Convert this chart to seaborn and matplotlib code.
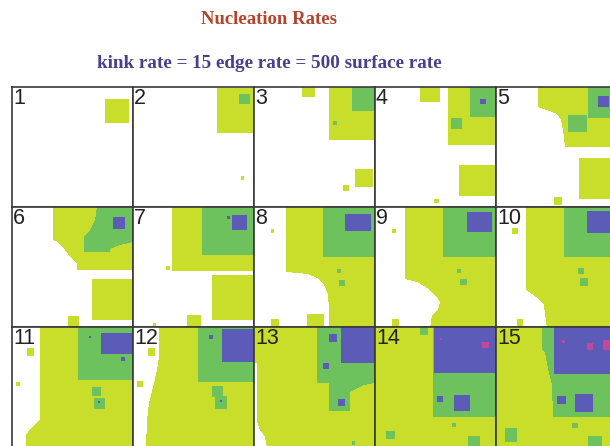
import numpy as np
import matplotlib
matplotlib.use("Agg")
import matplotlib.pyplot as plt
from matplotlib.colors import ListedColormap
from matplotlib.path import Path
import seaborn as sns

# colores por capa: sustrato, 1a, 2a, 3a y 4a capa
layer_colors = ["#ffffff", "#c8de2a", "#6dc25e", "#5c5cb8", "#c04a9a"]
panel_labels = [str(i) for i in range(1, 16)]

# islas de cada instantanea: (capa, x0, y0, x1, y1) en sitios de red
# o (capa, [contorno]) para los frentes irregulares
snap_01 = [(1, 93, 12, 117, 36)]
snap_02 = [(1, 84, 1, 121, 46), (2, 106, 7, 117, 17), (1, 108, 89, 111, 93)]
snap_03 = [(1, 48, 0, 61, 10), (1, 75, 0, 121, 53), (2, 98, 0, 121, 24),
           (2, 79, 34, 83, 38), (1, 101, 82, 119, 100), (1, 89, 98, 95, 104)]
snap_04 = [(1, 45, 0, 65, 15), (1, 73, 0, 121, 58), (2, 95, 0, 121, 30),
           (3, 105, 12, 111, 17), (2, 76, 31, 87, 42), (1, 84, 78, 121, 109),
           (1, 59, 112, 64, 116)]
snap_05 = [(1, [(42, 0), (121, 0), (121, 60), (69, 60), (67, 43), (65, 33),
                (61, 27), (54, 24), (42, 20)]),
           (2, 92, 0, 121, 31), (3, 102, 9, 113, 20), (2, 72, 28, 91, 45),
           (1, 83, 71, 121, 112), (1, 58, 110, 66, 118)]
snap_06 = [(1, [(41, 0), (121, 0), (121, 63), (65, 63), (65, 57), (61, 52),
                (56, 47), (51, 40), (46, 35), (41, 33)]),
           (2, [(85, 0), (121, 0), (121, 35), (108, 38), (98, 42), (98, 45),
                (72, 45), (72, 30), (78, 23), (83, 13)]),
           (3, 101, 10, 113, 22), (2, 93, 9, 95, 11),
           (1, 80, 72, 121, 113), (1, 56, 109, 67, 121)]
snap_07 = [(1, 39, 0, 121, 64), (2, 69, 0, 121, 48), (3, 99, 8, 114, 23),
           (3, 94, 9, 97, 12), (1, 33, 59, 37, 63), (1, 79, 68, 121, 113),
           (1, 54, 108, 68, 121), (1, 20, 116, 23, 119)]
snap_08 = [(1, 32, 0, 121, 121),
           (0, [(0, 65), (32, 65), (54, 67), (63, 71), (70, 78), (74, 87),
                (75, 103), (75, 121), (0, 121)]),
           (2, 69, 0, 121, 50), (3, 91, 7, 117, 24), (2, 83, 62, 87, 66),
           (2, 85, 73, 91, 79), (1, 17, 22, 20, 26), (1, 53, 107, 70, 121),
           (1, 17, 112, 25, 121)]
snap_09 = [(1, 30, 0, 121, 121),
           (0, [(0, 72), (30, 72), (42, 75), (52, 81), (60, 88), (65, 95),
                (63, 103), (57, 108), (55, 121), (0, 121)]),
           (2, 68, 0, 121, 50), (3, 92, 5, 117, 25), (2, 82, 62, 86, 66),
           (2, 85, 72, 92, 78), (1, 17, 22, 21, 26), (1, 17, 112, 24, 121)]
snap_10 = [(1, [(30, 0), (121, 0), (121, 121), (51, 121), (49, 107), (48, 98),
                (43, 92), (36, 87), (30, 83)]),
           (2, 68, 0, 121, 50), (3, 91, 4, 121, 26), (2, 82, 61, 88, 67),
           (2, 84, 71, 92, 79), (1, 16, 21, 22, 27), (1, 21, 112, 27, 121)]
snap_11 = [(1, [(28, 0), (121, 0), (121, 121), (14, 121), (14, 108), (16, 105),
                (21, 100), (28, 93)]),
           (2, 66, 0, 121, 53), (3, 89, 6, 121, 27), (3, 109, 30, 113, 34),
           (3, 77, 9, 79, 11), (2, 80, 60, 89, 69), (2, 82, 71, 93, 82),
           (3, 86, 74, 88, 76), (1, 15, 21, 22, 29), (1, 4, 55, 8, 59)]
snap_12 = [(1, [(26, 0), (121, 0), (121, 121), (13, 121), (14, 93), (16, 76),
                (20, 60), (24, 43), (26, 30)]),
           (2, 65, 0, 121, 55), (3, 89, 2, 121, 35), (3, 76, 8, 80, 12),
           (2, 79, 59, 90, 70), (2, 82, 69, 94, 82), (3, 87, 73, 89, 75),
           (1, 15, 21, 22, 29), (1, 4, 54, 10, 60)]
snap_13 = [(1, 0, 0, 121, 121),
           (0, [(0, 36), (3, 36), (3, 95), (6, 103), (11, 110), (13, 121), (0, 121)]),
           (2, [(63, 0), (121, 0), (121, 56), (110, 58), (104, 61), (96, 65),
                (96, 84), (75, 84), (75, 56), (63, 56)]),
           (3, 87, 0, 121, 36), (3, 75, 7, 83, 15), (3, 69, 36, 75, 42),
           (3, 84, 72, 91, 79), (2, 98, 114, 101, 118)]
snap_14 = [(1, 0, 0, 121, 121), (2, 58, 0, 121, 90), (3, 59, 0, 121, 46),
           (4, 107, 15, 114, 21), (4, 65, 11, 67, 13), (3, 62, 69, 68, 75),
           (3, 79, 68, 95, 84), (2, 11, 104, 20, 112), (2, 77, 96, 81, 100),
           (2, 93, 109, 105, 121), (2, 45, 0, 53, 8)]
snap_15 = [(1, 0, 0, 121, 121),
           (2, [(46, 0), (121, 0), (121, 90), (57, 90), (56, 58), (52, 42),
                (49, 25), (46, 22)]),
           (3, 58, 0, 121, 47), (4, 91, 16, 97, 23), (4, 107, 13, 114, 23),
           (4, 66, 13, 69, 16), (3, 61, 69, 70, 77), (3, 79, 67, 97, 85),
           (2, 9, 101, 21, 115), (2, 76, 96, 82, 101), (2, 92, 109, 106, 121)]

snapshots = [snap_01, snap_02, snap_03, snap_04, snap_05,
             snap_06, snap_07, snap_08, snap_09, snap_10,
             snap_11, snap_12, snap_13, snap_14, snap_15]

NX, NY = 121, 120


# Convertir las islas en una matriz de alturas
def superficie(islas):
    h = np.zeros((NY, NX), dtype=int)
    yy, xx = np.mgrid[0:NY, 0:NX]
    centros = np.column_stack([xx.ravel() + 0.5, yy.ravel() + 0.5])
    for isla in islas:
        if len(isla) == 5:
            capa, x0, y0, x1, y1 = isla
            h[y0:y1, x0:x1] = capa
        else:
            capa, contorno = isla
            dentro = Path(contorno).contains_points(centros).reshape(NY, NX)
            h[dentro] = capa
    return h


def main():
    sns.set_style("white")
    fig = plt.figure(figsize=(6.1, 4.46), dpi=100)
    cmap = ListedColormap(layer_colors)

    W, H = 610, 446
    for k, islas in enumerate(snapshots):
        fila, col = divmod(k, 5)
        x0 = 12 + 121 * col
        y0 = 86.5 + 120.3 * fila
        ax = fig.add_axes([x0 / W, 1 - (y0 + 120.3) / H, 121 / W, 120.3 / H])
        sns.heatmap(superficie(islas), cmap=cmap, vmin=-0.5, vmax=4.5,
                    cbar=False, xticklabels=False, yticklabels=False, ax=ax)
        for spine in ax.spines.values():
            spine.set_visible(True)
            spine.set_color("#3a3a3a")
            spine.set_linewidth(1.2)
        ax.text(1, 1, panel_labels[k], ha="left", va="top", fontsize=15.5,
                family="Liberation Sans", color="#222222")

    fig.text(269 / W, 1 - 20 / H, "Nucleation Rates", ha="center", va="center",
             family="Liberation Serif", weight="bold", fontsize=13.5, color="#b5432b")
    fig.text(269 / W, 1 - 63 / H, "kink rate = 15 edge rate = 500 surface rate",
             ha="center", va="center", family="Liberation Serif", weight="bold",
             fontsize=13.8, color="#4b3d8f")

    fig.savefig("out.png", dpi=100)


if __name__ == "__main__":
    main()
